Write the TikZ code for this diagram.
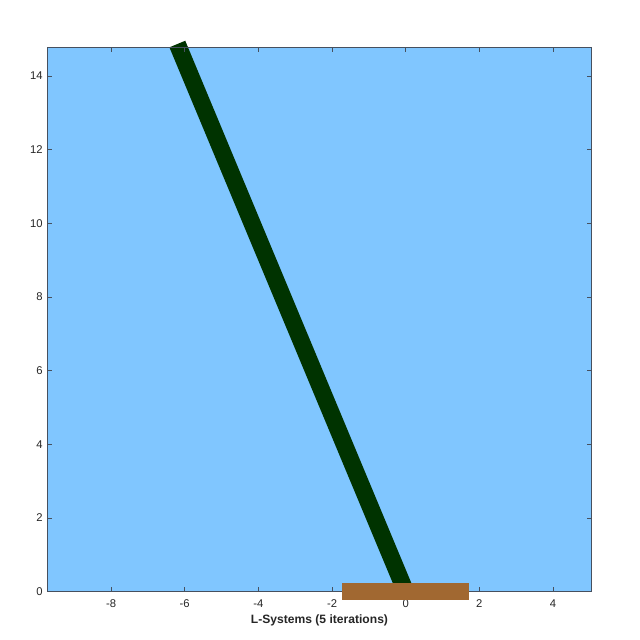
\documentclass[tikz,border=0pt]{standalone}
\usepackage{fontspec}
\setmainfont{Liberation Sans}
\definecolor{skyfill}{RGB}{128,198,255}
\definecolor{stemgreen}{RGB}{0,51,0}
\definecolor{groundbrown}{RGB}{161,104,49}
\definecolor{axisgray}{RGB}{70,80,95}
\definecolor{labelgray}{RGB}{38,38,38}
\tikzset{
  axisline/.style={draw=axisgray, line width=0.6pt},
  tickmark/.style={draw=axisgray, line width=0.6pt},
  ticklabel/.style={font=\fontsize{8}{9}\selectfont, text=labelgray, inner sep=0pt},
  titlelabel/.style={font=\bfseries\fontsize{8.6}{10}\selectfont, text=labelgray, inner sep=0pt}
}
\begin{document}
\begin{tikzpicture}[x=0.92075cm,y=0.92075cm]
\useasboundingbox (-11.015,-1.311) rectangle (6.362,16.066);
\fill[white] (-11.015,-1.311) rectangle (6.362,16.066);
% axes area
\fill[skyfill] (-9.73,0) rectangle (5.05,14.78);
% stem
\draw[stemgreen, line width=12.2pt, line cap=butt] (0,0) -- (-6.2,14.87);
% axes box
\draw[axisline] (-9.73,0) rectangle (5.05,14.78);
% x ticks
\foreach \t in {-8,-6,-4,-2,0,2,4}{
  \draw[tickmark] (\t,0) -- (\t,0.136);
  \draw[tickmark] (\t,14.78) -- (\t,14.644);
  \node[ticklabel] (xl\t) at (\t,-0.335) {\t};
}
% y ticks
\foreach \t in {0,2,4,6,8,10,12,14}{
  \draw[tickmark] (-9.73,\t) -- (-9.594,\t);
  \draw[tickmark] (5.05,\t) -- (4.914,\t);
  \node[ticklabel, anchor=east] (yl\t) at (-9.85,\t) {\t};
}
% ground
\fill[groundbrown] (-1.72,-0.226) rectangle (1.73,0.228);
% title
\node[titlelabel] (title) at (-2.34,-0.773) {L-Systems (5 iterations)};
\end{tikzpicture}
\end{document}
